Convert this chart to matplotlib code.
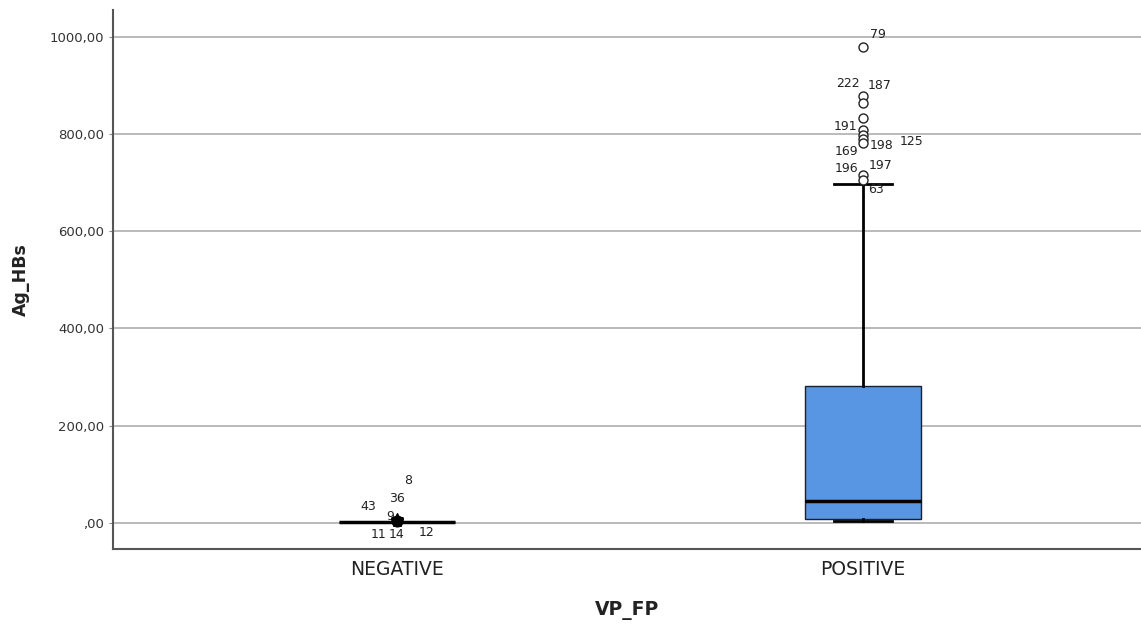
import matplotlib.pyplot as plt
from matplotlib.ticker import FuncFormatter

# groups
categories = ["NEGATIVE", "POSITIVE"]

# box stats (whislo, q1, med, q3, whishi)
whislo = [3, 4]
q1 = [3, 8]
med = [3, 45]
q3 = [3, 282]
whishi = [3, 697]

# outliers of POSITIVE (circles) with their case numbers
pos_out = [979, 879, 864, 833, 809, 798, 790, 782, 716, 706]
pos_ids = ["79", "222", "187", "191", "198", "125", "169", "196", "197", "63"]
# which outlier each label sits next to, and label offset in pixels
pos_lab_ref = [979, 879, 879, 809, 790, 798, 782, 716, 716, 706]
pos_lab_off = [(15, 12), (-15, 12), (17, 10), (-17, 3), (19, -7), (49, -7),
               (-16, -9), (-16, 6), (18, 9), (13, -10)]

# extreme values of NEGATIVE (stars), all close to zero
neg_ext = [8, 7, 6, 6, 5, 5, 5]
neg_ids = ["8", "36", "43", "9", "11", "14", "12"]
neg_lab_off = [(11, 40), (0, 22), (-29, 14), (-7, 4), (-18, -14), (0, -14), (30, -12)]

fig = plt.figure(figsize=(11.41, 6.26), dpi=100)
ax = fig.add_axes([0.099, 0.123, 0.901, 0.861])

stats = []
for i in range(len(categories)):
    stats.append({"whislo": whislo[i], "q1": q1[i], "med": med[i],
                  "q3": q3[i], "whishi": whishi[i], "fliers": []})

ax.bxp(stats, positions=[0, 1], widths=0.249, patch_artist=True, showfliers=False,
       boxprops=dict(facecolor="#5896E3", edgecolor="#1a2030", linewidth=1),
       medianprops=dict(color="black", linewidth=2.5),
       whiskerprops=dict(color="black", linewidth=2),
       capprops=dict(color="black", linewidth=2),
       zorder=3)

# outliers
ax.scatter([1] * len(pos_out), pos_out, s=42, facecolors="white",
           edgecolors="#222222", linewidths=1, zorder=4)
ax.scatter([0] * len(neg_ext), neg_ext, s=70, marker="*", color="black", zorder=4)
ax.scatter([0], [neg_ext[-1]], s=60, marker="o", color="black", zorder=4)

for t, yv, off in zip(pos_ids, pos_lab_ref, pos_lab_off):
    ax.annotate(t, (1, yv), xytext=off, textcoords="offset pixels",
                ha="center", va="center", fontsize=9, color="#222222")
for t, off in zip(neg_ids, neg_lab_off):
    ax.annotate(t, (0, neg_ext[-1]), xytext=off, textcoords="offset pixels",
                ha="center", va="center", fontsize=9, color="#222222")

ax.set_xlim(-0.609, 1.597)
ax.set_ylim(-53.5, 1055)
ax.set_yticks([0, 200, 400, 600, 800, 1000])
ax.yaxis.set_major_formatter(FuncFormatter(
    lambda v, p: (",00" if v == 0 else f"{v:.2f}".replace(".", ","))))
ax.set_xticks([0, 1])
ax.set_xticklabels(categories, fontsize=13.5, color="#222222")
ax.tick_params(axis="x", length=0, pad=8)
ax.tick_params(axis="y", labelsize=9.5, labelcolor="#333333", length=3, color="#888888")

ax.grid(axis="y", color="#b4b4b4", linewidth=1.3, zorder=0)
ax.set_axisbelow(True)
for s in ["top", "right"]:
    ax.spines[s].set_visible(False)
for s in ["left", "bottom"]:
    ax.spines[s].set_color("#555555")
    ax.spines[s].set_linewidth(1.5)

ax.set_ylabel("Ag_HBs", fontsize=12.5, fontweight="bold", color="#222222", labelpad=14)
ax.set_xlabel("VP_FP", fontsize=13.5, fontweight="bold", color="#222222", labelpad=16)

fig.savefig("out.png", dpi=100)
